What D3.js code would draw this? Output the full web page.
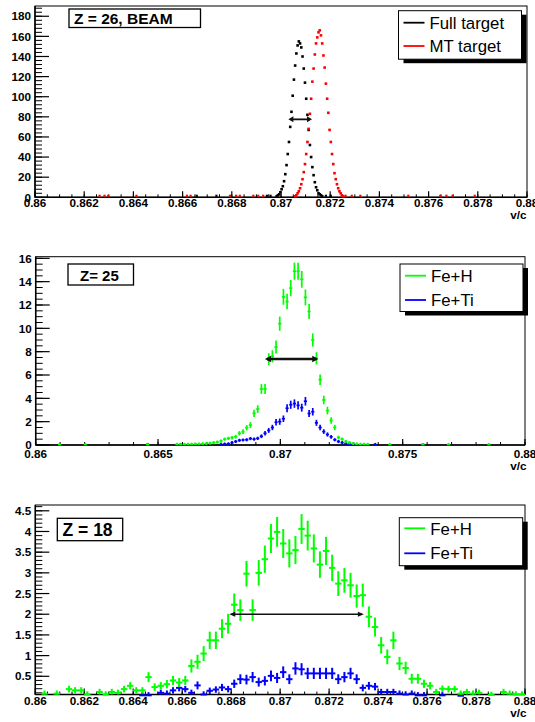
<!DOCTYPE html>
<html>
<head>
<meta charset="utf-8">
<script src="https://cdnjs.cloudflare.com/ajax/libs/d3/7.8.5/d3.min.js"></script>
<style>
body{margin:0;background:#fff;}
svg{display:block;}
</style>
</head>
<body>
<svg id="wykres" width="535" height="722"></svg>
<script>
// ---- top panel: Z = 26, beam (bins of 0.00005 starting at 0.86)
var beamBinWidth = 0.00005;
var fullStart = 196;
var fullTarget = [1,2,3,5,8,11,16,23,32,43,55,70,85,101,117,131,143,151,155,153,149,140,128,114,98,82,67,52,40,30,22,15,10,7,4,3,2,1];
var mtStart = 211;
var mtTarget = [1,2,4,6,9,13,18,25,33,43,55,68,83,98,115,128,142,153,159,164,166,161,153,141,129,113,98,84,67,55,43,33,24,18,13,9,6,4,2,1];
var fullTailBins = [131,147,188,191,236,240];
var fullTailVals = [1,1,1,1,1,1];
var mtTailBins = [52,56,59,82,123,126,158,163,166,177,181,185,252,257,264,303,329,334,339,357];
var mtTailVals = [1,1,1,1,1,1,1,1,1,1,1,1,1,1,1,1,1,1,1,1];
var beamArrow = [0.87030, 0.87126, 77.5];
var beamYTicks = [0,20,40,60,80,100,120,140,160,180];
var beamXTicks = [0.86,0.862,0.864,0.866,0.868,0.87,0.872,0.874,0.876,0.878,0.88];
var beamXLabels = ["0.86","0.862","0.864","0.866","0.868","0.87","0.872","0.874","0.876","0.878","0.88"];

// ---- middle panel: Z = 25 (bins of 0.00015)
var z25BinWidth = 0.00015;
var feH25Start = 38;
var feH25 = [0.05,0.05,0.05,0.05,0.06,0.08,0.08,0.1,0.12,0.15,0.2,0.25,0.34,0.5,0.57,0.63,0.71,1.0,1.14,1.48,1.71,2.71,3.08,4.8,4.8,7.35,7.6,8.4,10.4,12.7,12.3,13.45,14.9,14.9,14.2,12.65,11.45,9.0,7.43,5.6,3.86,2.95,2.1,1.5,0.65,0.5,0.3,0.2,0.12,0.08,0.05,0.05,0.05];
var feH25Err = [0.04,0.04,0.04,0.04,0.05,0.05,0.05,0.06,0.07,0.07,0.08,0.1,0.11,0.13,0.14,0.15,0.16,0.19,0.2,0.23,0.25,0.31,0.33,0.42,0.42,0.52,0.52,0.55,0.61,0.68,0.67,0.7,0.73,0.73,0.72,0.68,0.64,0.57,0.52,0.45,0.37,0.33,0.28,0.23,0.15,0.13,0.1,0.08,0.07,0.05,0.04,0.04,0.04];
var feH25TailBins = [6,13,30,96,105,112,123];
var feTi25Start = 50;
var feTi25 = [0.05,0.08,0.1,0.2,0.3,0.4,0.43,0.45,0.55,0.5,0.57,0.75,1.0,1.25,1.5,1.95,2.0,2.25,3.15,3.45,3.55,3.4,3.2,3.75,2.7,2.85,1.9,1.5,1.15,0.9,0.7,0.45,0.3,0.2,0.12,0.08,0.05];
var feTi25Err = [0.04,0.05,0.06,0.08,0.1,0.12,0.12,0.13,0.14,0.13,0.14,0.16,0.19,0.21,0.23,0.27,0.27,0.28,0.34,0.35,0.36,0.35,0.34,0.37,0.31,0.32,0.26,0.23,0.2,0.18,0.16,0.13,0.1,0.08,0.07,0.05,0.04];
var feTi25TailBins = [30,39,92,105];
var z25Arrow = [0.86937, 0.87155, 7.37];
var z25YTicks = [0,2,4,6,8,10,12,14,16];
var z25XTicks = [0.86,0.865,0.87,0.875,0.88];
var z25XLabels = ["0.86","0.865","0.87","0.875","0.88"];

// ---- bottom panel: Z = 18 (bins of 0.00025)
var z18BinWidth = 0.00025;
var feH18 = [null,0.08,null,0.08,null,0.19,0.16,0.16,0.06,null,
 0.12,0.06,0.12,0.1,0.19,0.27,0.16,0.16,0.48,0.24,
 0.27,0.31,0.4,0.35,0.4,0.75,0.85,1.05,1.37,1.37,
 1.65,1.77,2.23,2.1,2.98,2.1,3.0,3.33,3.83,3.99,
 3.71,3.47,3.55,4.06,3.9,3.59,3.2,3.53,3.12,2.74,
 2.82,2.7,2.44,2.46,1.94,1.69,1.25,0.97,1.37,0.81,
 0.7,0.44,0.44,0.32,0.27,0.12,0.2,0.19,0.19,0.08,
 0.12,0.08,0.1,null,0.05,null,0.12,0.08,0.06,0.06];
var feH18Err = [null,0.05,null,0.05,null,0.08,0.07,0.07,0.04,null,
 0.06,0.04,0.06,0.06,0.08,0.09,0.07,0.07,0.12,0.09,
 0.09,0.1,0.11,0.11,0.11,0.16,0.17,0.18,0.21,0.21,
 0.23,0.24,0.27,0.26,0.31,0.26,0.31,0.33,0.35,0.36,
 0.35,0.34,0.34,0.36,0.36,0.34,0.32,0.34,0.32,0.3,
 0.3,0.3,0.28,0.28,0.25,0.23,0.2,0.18,0.21,0.16,
 0.15,0.12,0.12,0.1,0.09,0.06,0.08,0.08,0.08,0.05,
 0.06,0.05,0.06,null,0.04,null,0.06,0.05,0.04,0.04];
var feTi18Start = 17;
var feTi18 = [0.04,0.04,null,0.1,0.08,0.16,0.22,0.19,0.1,0.28,
 0.06,0.15,0.18,0.23,0.19,0.32,0.43,0.42,0.48,0.36,
 0.39,0.51,0.46,0.6,0.43,0.69,0.67,0.57,0.57,0.57,
 0.57,0.57,0.43,0.48,0.57,0.43,0.22,0.27,0.25,0.12,
 0.12,0.12,0.08,0.06,0.08,0.04,0.04,null,null,0.04,
 null,null,0.03];
var feTi18Err = [0.036,0.036,null,0.057,0.05,0.072,0.084,0.078,0.057,0.095,
 0.044,0.07,0.076,0.086,0.078,0.1,0.118,0.117,0.125,0.108,
 0.112,0.13,0.122,0.14,0.118,0.15,0.147,0.136,0.136,0.136,
 0.136,0.136,0.118,0.125,0.136,0.118,0.084,0.094,0.09,0.062,
 0.062,0.062,0.05,0.044,0.05,0.036,0.036,null,null,0.036,
 null,null,0.03];
var z18Arrow = [0.86792, 0.87342, 2.0];
var z18YTicks = [0.5,1,1.5,2,2.5,3,3.5,4,4.5];
var z18XTicks = beamXTicks;
var z18XLabels = beamXLabels;

var svg = d3.select("#wykres");
var FONT = "'Liberation Sans', Arial, Helvetica, sans-serif";

function srodek(k, szer){ return 0.86 + (k + 0.5) * szer; }

// frame, ticks and labels of one pad
function ramka(p){
	var x = d3.scaleLinear().domain([0.86,0.88]).range([p.left,p.right]);
	var y = d3.scaleLinear().domain(p.yDomain).range([p.bottom,p.top]);
	svg.append("rect")
		.attr("x", p.left).attr("y", p.top)
		.attr("width", p.right-p.left).attr("height", p.bottom-p.top)
		.style("fill","none").style("stroke","black").style("stroke-width",1);
	// y minor ticks
	var ym = d3.range(p.yMinorFrom, p.yDomain[1], p.yMinor);
	ym.forEach(function(v){
		if(v < p.yDomain[0]) return;
		svg.append("line")
			.attr("x1", p.left).attr("x2", p.left+7)
			.attr("y1", y(v)).attr("y2", y(v))
			.style("stroke","black").style("stroke-width",1);
	});
	p.yTicks.forEach(function(v){
		svg.append("line")
			.attr("x1", p.left).attr("x2", p.left+14)
			.attr("y1", y(v)).attr("y2", y(v))
			.style("stroke","black").style("stroke-width",1.2);
		svg.append("text")
			.attr("x", p.left-4).attr("y", y(v)+4.2)
			.attr("text-anchor","end")
			.attr("font-family", FONT).attr("font-weight","bold")
			.attr("font-size", 11.7)
			.text(v);
	});
	// x ticks
	var xm = d3.range(0, Math.round(0.02/p.xMinor)+1).map(function(i){ return 0.86 + i*p.xMinor; });
	xm.forEach(function(v){
		svg.append("line")
			.attr("x1", x(v)).attr("x2", x(v))
			.attr("y1", p.bottom).attr("y2", p.bottom-3)
			.style("stroke","black").style("stroke-width",1);
	});
	p.xTicks.forEach(function(v,i){
		svg.append("line")
			.attr("x1", x(v)).attr("x2", x(v))
			.attr("y1", p.bottom).attr("y2", p.bottom-6)
			.style("stroke","black").style("stroke-width",1.2);
		svg.append("text")
			.attr("x", x(v)).attr("y", p.bottom+p.labOff)
			.attr("text-anchor","middle")
			.attr("font-family", FONT).attr("font-weight","bold")
			.attr("font-size", 11.7)
			.text(p.xLabels[i]);
	});
	// axis lines a bit heavier
	svg.append("line").attr("x1",p.left).attr("x2",p.left).attr("y1",p.top).attr("y2",p.bottom)
		.style("stroke","black").style("stroke-width",1.5);
	svg.append("line").attr("x1",p.left).attr("x2",p.right).attr("y1",p.bottom).attr("y2",p.bottom)
		.style("stroke","black").style("stroke-width",1.5);
	svg.append("text")
		.attr("x", 526.5).attr("y", p.vcY)
		.attr("text-anchor","end")
		.attr("font-family", FONT).attr("font-weight","bold")
		.attr("font-size", 11.7)
		.text("v/c");
	return {x:x, y:y};
}

function kropki(s, start, wartosci, szer, kolor){
	wartosci.forEach(function(v,i){
		if(v === null) return;
		svg.append("rect")
			.attr("x", s.x(srodek(start+i, szer))-1.3)
			.attr("y", s.y(v)-1.3)
			.attr("width", 2.6).attr("height", 2.6)
			.style("fill", kolor);
	});
}
function kropkiRzadkie(s, biny, wartosci, szer, kolor){
	biny.forEach(function(k,i){
		svg.append("rect")
			.attr("x", s.x(srodek(k, szer))-1.1)
			.attr("y", s.y(wartosci[i])-1.6)
			.attr("width", 2.2).attr("height", 2.2)
			.style("fill", kolor);
	});
}

// cross = marker "+" plus vertical error bar
function krzyzyki(s, start, wartosci, bledy, szer, kolor, pol, grub){
	wartosci.forEach(function(v,i){
		if(v === null) return;
		var cx = s.x(srodek(start+i, szer));
		var cy = s.y(v);
		var g = svg.append("g").style("stroke", kolor).style("stroke-width", grub);
		var y1 = Math.min(s.y(v+bledy[i]), cy-pol);
		var y2 = Math.max(s.y(v-bledy[i]), cy+pol);
		if(y2 > s.y.range()[0]) y2 = s.y.range()[0];
		g.append("line").attr("x1",cx).attr("x2",cx).attr("y1",y1).attr("y2",y2);
		g.append("line").attr("x1",cx-pol).attr("x2",cx+pol).attr("y1",cy).attr("y2",cy);
	});
}

function strzalka(s, a, grub, dl, szer){
	var x1 = s.x(a[0]), x2 = s.x(a[1]), yy = s.y(a[2]);
	svg.append("line")
		.attr("x1", x1+2).attr("x2", x2-2).attr("y1", yy).attr("y2", yy)
		.style("stroke","#111").style("stroke-width", grub);
	svg.append("path")
		.attr("d", "M"+x1+","+yy+" L"+(x1+dl)+","+(yy-szer)+" L"+(x1+dl)+","+(yy+szer)+" Z")
		.style("fill","#111");
	svg.append("path")
		.attr("d", "M"+x2+","+yy+" L"+(x2-dl)+","+(yy-szer)+" L"+(x2-dl)+","+(yy+szer)+" Z")
		.style("fill","#111");
}

function tytul(x0,y0,w,h,tekst,rozm,tx,ty){
	svg.append("rect").attr("x",x0).attr("y",y0).attr("width",w).attr("height",h)
		.style("fill","white").style("stroke","black").style("stroke-width",1.3);
	svg.append("text").attr("x",tx).attr("y",ty)
		.attr("font-family", FONT).attr("font-weight","bold").attr("font-size",rozm)
		.text(tekst);
}

function legenda(x0,y0,w,h,wpisy){
	svg.append("rect").attr("x",x0+5).attr("y",y0+4).attr("width",w).attr("height",h)
		.style("fill","black");
	svg.append("rect").attr("x",x0).attr("y",y0).attr("width",w).attr("height",h)
		.style("fill","white").style("stroke","black").style("stroke-width",1);
	wpisy.forEach(function(e){
		svg.append("line").attr("x1",x0+5).attr("x2",x0+26).attr("y1",e.yl).attr("y2",e.yl)
			.style("stroke",e.kolor).style("stroke-width",1.8);
		svg.append("text").attr("x",x0+31).attr("y",e.yt)
			.attr("font-family", FONT).attr("font-size",16.8)
			.text(e.tekst);
	});
}

// ===== top
var gora = ramka({left:35, right:527, top:6, bottom:197.3, yDomain:[0,190.2],
	yTicks:beamYTicks, yMinor:4, yMinorFrom:0, xTicks:beamXTicks, xLabels:beamXLabels,
	xMinor:0.0005, labOff:9.6, vcY:219});
kropkiRzadkie(gora, mtTailBins, mtTailVals, beamBinWidth, "red");
kropkiRzadkie(gora, fullTailBins, fullTailVals, beamBinWidth, "black");
kropki(gora, fullStart, fullTarget, beamBinWidth, "black");
kropki(gora, mtStart, mtTarget, beamBinWidth, "red");
strzalka(gora, beamArrow, 1.8, 5, 3);
tytul(69, 9, 131.5, 18.5, "Z = 26, BEAM", 15.5, 74, 24);
legenda(398.5, 10.7, 123, 48.5, [
	{kolor:"black", tekst:"Full target", yl:22.7, yt:28.5},
	{kolor:"red", tekst:"MT target", yl:46, yt:51.5}
]);

// ===== middle
var srodkowy = ramka({left:35.7, right:525, top:256.7, bottom:445, yDomain:[0,16.14],
	yTicks:z25YTicks, yMinor:0.5, yMinorFrom:0, xTicks:z25XTicks, xLabels:z25XLabels,
	xMinor:0.001, labOff:12.7, vcY:470});
krzyzyki(srodkowy, feTi25Start, feTi25, feTi25Err, z25BinWidth, "#0000ff", 1.6, 1.7);
feTi25TailBins.forEach(function(k){
	krzyzyki(srodkowy, k, [0.04], [0.03], z25BinWidth, "#0000ff", 1.6, 1.7);
});
krzyzyki(srodkowy, feH25Start, feH25, feH25Err, z25BinWidth, "#00ff00", 1.6, 1.7);
feH25TailBins.forEach(function(k){
	krzyzyki(srodkowy, k, [0.04], [0.03], z25BinWidth, "#00ff00", 1.6, 1.7);
});
strzalka(srodkowy, z25Arrow, 2.4, 6, 3.2);
tytul(68, 264, 65.5, 21, "Z= 25", 15, 80, 280.5);
legenda(400, 264, 123, 47.5, [
	{kolor:"#00ff00", tekst:"Fe+H", yl:275.7, yt:281.5},
	{kolor:"#0000ff", tekst:"Fe+Ti", yl:300, yt:305.5}
]);

// ===== bottom
var dolny = ramka({left:35.3, right:525, top:505, bottom:694.5, yDomain:[0.06,4.64],
	yTicks:z18YTicks, yMinor:0.1, yMinorFrom:0.1, xTicks:z18XTicks, xLabels:z18XLabels,
	xMinor:0.0005, labOff:10.6, vcY:717});
krzyzyki(dolny, feTi18Start, feTi18, feTi18Err, z18BinWidth, "#0000ff", 3.2, 2);
krzyzyki(dolny, 0, feH18, feH18Err, z18BinWidth, "#00ff00", 3.2, 2);
strzalka(dolny, z18Arrow, 1.6, 6, 2.6);
tytul(57.3, 518.3, 65.4, 22.4, "Z = 18", 17.5, 62.5, 536);
legenda(399.3, 517.7, 123.4, 48, [
	{kolor:"#00ff00", tekst:"Fe+H", yl:528.3, yt:534.5},
	{kolor:"#0000ff", tekst:"Fe+Ti", yl:553.3, yt:558.5}
]);
</script>
</body>
</html>
